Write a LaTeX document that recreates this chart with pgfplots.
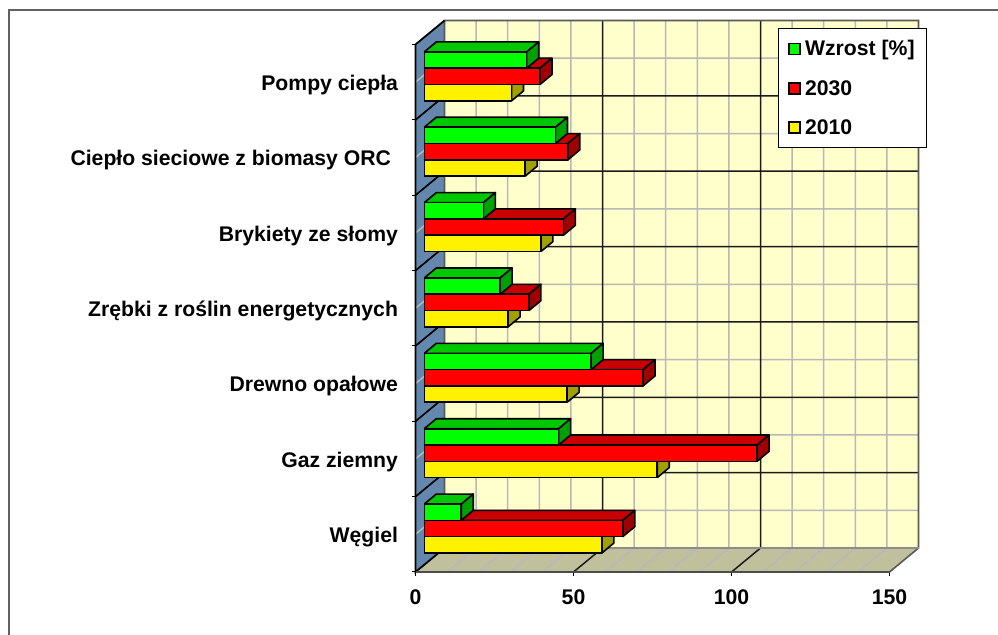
\documentclass[border=0pt]{standalone}
\usepackage{fontspec}
\setmainfont{Liberation Sans}
\usepackage{pgfplots}
\usepackage{pgfplotstable}
\pgfplotsset{compat=1.18}
\definecolor{wallc}{HTML}{6487AE}
\definecolor{floorc}{HTML}{C0C09C}
\definecolor{backc}{HTML}{FFFFCC}
\definecolor{gridc}{HTML}{B8B8B8}
\definecolor{gtop}{HTML}{00C800}\definecolor{gside}{HTML}{00A000}
\definecolor{rtop}{HTML}{C80000}\definecolor{rside}{HTML}{A00000}
\definecolor{ytop}{HTML}{C8C800}\definecolor{yside}{HTML}{A0A000}
% row 0 = Wegiel ... row 6 = Pompy ciepla
\pgfplotstableread{
y2010 y2030 wzrost
56.2  62.8  11.7
73.7  105.3 42.5
45.2  69.2  52.8
26.5  33.1  24.0
36.9  44.0  18.7
31.9  45.4  41.5
27.6  36.6  32.4
}\datatable
\newcommand{\dbar}[6]{% row, slot, column, front, top, side
  \pgfplotstablegetelem{#1}{#3}\of\datatable
  \pgfmathsetmacro\xa{2.785}
  \pgfmathsetmacro\xb{2.785+\pgfplotsretval}
  \pgfmathsetmacro\xc{\xa+3.8}
  \pgfmathsetmacro\xd{\xb+3.8}
  \pgfmathsetmacro\ya{#1+0.252+0.2165*#2}
  \pgfmathsetmacro\yb{\ya+0.2165}
  \pgfmathsetmacro\yc{\yb+0.1326}
  \pgfmathsetmacro\yd{\ya+0.1326}
  \addplot[draw=black,line width=1.6bp,fill=#5,line join=round,forget plot] coordinates {(\xa,\yb) (\xb,\yb) (\xd,\yc) (\xc,\yc) (\xa,\yb)};
  \addplot[draw=black,line width=1.6bp,fill=#6,line join=round,forget plot] coordinates {(\xb,\ya) (\xd,\yd) (\xd,\yc) (\xb,\yb) (\xb,\ya)};
  \addplot[draw=black,line width=1.6bp,fill=#4,line join=round,forget plot] coordinates {(\xa,\ya) (\xb,\ya) (\xb,\yb) (\xa,\yb) (\xa,\ya)};
}
\begin{document}
\begin{tikzpicture}[x=1bp,y=1bp]
\useasboundingbox (0,0) rectangle (998,635);
\draw[color=black!62,line width=2bp] (998,624.5) -- (8.5,624.5) -- (8.5,0);
\begin{axis}[
  at={(415.5bp,63bp)},anchor=south west,
  scale only axis,width=474bp,height=527.5bp,
  xmin=0,xmax=150,ymin=0,ymax=7,
  clip=false,
  axis x line=bottom,axis y line=left,
  axis line style={-,black,line width=1bp},
  x axis line style={draw=none},
  y axis line style={draw=none},
  xtick={0,50,100,150},
  ytick={0,...,7},yticklabels={},
  extra y ticks={0.5,1.5,2.5,3.5,4.5,5.5,6.5},
  extra y tick labels={W\k{e}giel,Gaz ziemny,Drewno opa\l{}owe,Zr\k{e}bki z ro\'slin energetycznych,Brykiety ze s\l{}omy,Ciep\l{}o sieciowe z biomasy ORC\hspace*{7bp},Pompy ciep\l{}a},
  extra tick style={major tick length=0pt,yticklabel style={font=\fontsize{21.2bp}{24bp}\selectfont\bfseries,anchor=east,xshift=-14bp,yshift=-2.7bp}},
  tick style={black,line width=1bp},
  major tick length=4bp,
  tick align=outside,
  xticklabel style={font=\fontsize{21.2bp}{24bp}\selectfont\bfseries,yshift=-10bp},
  /pgf/number format/assume math mode=true,
  legend style={at={(axis cs:114.7,7.22)},anchor=north west,draw=black,line width=1bp,fill=white,
    font=\fontsize{21.2bp}{24bp}\selectfont\bfseries,
    inner xsep=10bp,inner ysep=10.5bp,
    /tikz/row sep=20bp,/tikz/column sep=2.5bp,
    nodes={inner sep=1.5bp,anchor=west}},
  legend cell align=left,
  legend image code/.code={\draw[#1,draw=black,line width=1.6bp] (-1bp,-5.5bp) rectangle (10bp,5.5bp);},
]
% walls
\fill[wallc] (axis cs:0,0) -- (axis cs:9.18,0.318) -- (axis cs:9.18,7.318) -- (axis cs:0,7) -- cycle;
\fill[floorc] (axis cs:0,0) -- (axis cs:150,0) -- (axis cs:159.18,0.318) -- (axis cs:9.18,0.318) -- cycle;
\fill[backc] (axis cs:9.18,0.318) rectangle (axis cs:159.18,7.318);
% minor grid
\pgfplotsinvokeforeach{10,20,30,40,60,70,80,90,110,120,130,140}{
  \draw[gridc,line width=1.5bp] (axis cs:#1,0) -- (axis cs:#1+9.18,0.318) -- (axis cs:#1+9.18,7.318);
}
\pgfplotsinvokeforeach{0.5,1.5,2.5,3.5,4.5,5.5,6.5}{
  \draw[gridc,line width=1.5bp] (axis cs:0,#1) -- (axis cs:9.18,#1+0.318) -- (axis cs:159.18,#1+0.318);
}
% major grid
\pgfplotsinvokeforeach{50,100}{
  \draw[black!90,line width=1.5bp] (axis cs:#1,0) -- (axis cs:#1+9.18,0.318) -- (axis cs:#1+9.18,7.318);
}
\pgfplotsinvokeforeach{1,2,3,4,5,6}{
  \draw[black!90,line width=1.5bp] (axis cs:0,#1) -- (axis cs:9.18,#1+0.318) -- (axis cs:159.18,#1+0.318);
}
% outlines
\draw[black!65,line width=1.6bp] (axis cs:9.18,0.318) -- (axis cs:9.18,7.318) -- (axis cs:159.18,7.318) -- (axis cs:159.18,0.318) -- (axis cs:150,0);
\draw[black!45,line width=1.2bp] (axis cs:9.18,0.318) -- (axis cs:159.18,0.318);
\draw[black,line width=1.8bp] (axis cs:9.18,7.318) -- (axis cs:0,7) -- (axis cs:0,0) -- (axis cs:9.18,0.318);
\pgfplotsinvokeforeach{1,...,6}{
  \draw[black,line width=1.4bp] (axis cs:0,#1) -- (axis cs:9.18,#1+0.318);
}
\draw[black!70,line width=1.8bp] (axis cs:0,0) -- (axis cs:150,0);
% bars
\pgfplotsinvokeforeach{0,...,6}{
  \dbar{#1}{0}{y2010}{yellow}{ytop}{yside}
  \dbar{#1}{1}{y2030}{red}{rtop}{rside}
  \dbar{#1}{2}{wzrost}{green}{gtop}{gside}
}
% legend entries (empty series)
\addplot[fill=green,draw=none] coordinates {(0,0)};
\addlegendentry{Wzrost [\%]}
\addplot[fill=red,draw=none] coordinates {(0,0)};
\addlegendentry{2030}
\addplot[fill=yellow,draw=none] coordinates {(0,0)};
\addlegendentry{2010}
\end{axis}
\end{tikzpicture}
\end{document}
